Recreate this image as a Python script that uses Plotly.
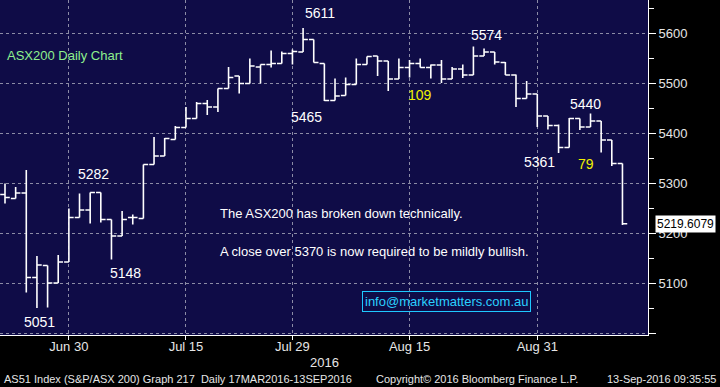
import plotly.graph_objects as go

dates = [
    "2016-06-22", "2016-06-23", "2016-06-24", "2016-06-27", "2016-06-28", "2016-06-29", "2016-06-30",
    "2016-07-01", "2016-07-04", "2016-07-05", "2016-07-06", "2016-07-07", "2016-07-08",
    "2016-07-11", "2016-07-12", "2016-07-13", "2016-07-14", "2016-07-15",
    "2016-07-18", "2016-07-19", "2016-07-20", "2016-07-21", "2016-07-22",
    "2016-07-25", "2016-07-26", "2016-07-27", "2016-07-28", "2016-07-29",
    "2016-08-01", "2016-08-02", "2016-08-03", "2016-08-04", "2016-08-05",
    "2016-08-08", "2016-08-09", "2016-08-10", "2016-08-11", "2016-08-12",
    "2016-08-15", "2016-08-16", "2016-08-17", "2016-08-18", "2016-08-19",
    "2016-08-22", "2016-08-23", "2016-08-24", "2016-08-25", "2016-08-26",
    "2016-08-29", "2016-08-30", "2016-08-31", "2016-09-01", "2016-09-02",
    "2016-09-05", "2016-09-06", "2016-09-07", "2016-09-08", "2016-09-09",
    "2016-09-12",
]
opens = [5278, 5270, 5281, 5112, 5136, 5101, 5143, 5232, 5247, 5282, 5228, 5195, 5232,
         5230, 5338, 5355, 5388, 5412, 5430, 5460, 5453, 5490, 5515, 5500, 5533, 5538, 5540, 5560,
         5563, 5588, 5540, 5466, 5476, 5498, 5538, 5555, 5545, 5509, 5532, 5540, 5532, 5537, 5509,
         5529, 5517, 5555, 5563, 5542, 5517, 5470, 5479, 5435, 5416, 5372, 5430, 5413, 5425, 5387,
         5340]
highs = [5300, 5293, 5327, 5155, 5136, 5157, 5250, 5280, 5282, 5282, 5228, 5245, 5238,
         5338, 5393, 5391, 5415, 5453, 5463, 5467, 5490, 5533, 5515, 5550, 5538, 5566, 5564, 5568,
         5611, 5588, 5540, 5510, 5512, 5550, 5554, 5555, 5545, 5550, 5547, 5550, 5538, 5547, 5533,
         5538, 5574, 5570, 5563, 5543, 5518, 5505, 5479, 5435, 5418, 5431, 5430, 5440, 5425, 5387,
         5340]
lows = [5260, 5270, 5082, 5051, 5052, 5101, 5143, 5232, 5220, 5222, 5148, 5195, 5218,
        5230, 5338, 5355, 5388, 5412, 5430, 5437, 5443, 5490, 5480, 5500, 5500, 5532, 5540, 5538,
        5563, 5542, 5465, 5466, 5476, 5498, 5538, 5515, 5485, 5509, 5512, 5532, 5510, 5501, 5509,
        5511, 5517, 5555, 5538, 5517, 5453, 5470, 5413, 5408, 5361, 5372, 5407, 5413, 5362, 5335,
        5217]
closes = [5272, 5281, 5112, 5137, 5101, 5143, 5232, 5247, 5282, 5228, 5195, 5228, 5232,
          5338, 5355, 5390, 5412, 5430, 5460, 5453, 5490, 5512, 5500, 5535, 5538, 5540, 5560, 5564,
          5588, 5542, 5466, 5475, 5498, 5538, 5554, 5545, 5509, 5532, 5540, 5532, 5537, 5509, 5529,
          5517, 5555, 5563, 5543, 5517, 5470, 5479, 5435, 5416, 5372, 5430, 5413, 5425, 5387, 5340,
          5219.6079]

tick_dates = ["2016-06-30", "2016-07-15", "2016-07-29", "2016-08-15", "2016-08-31"]
tick_labels = ["Jun 30", "Jul 15", "Jul 29", "Aug 15", "Aug 31"]
y_ticks = [5000, 5100, 5200, 5300, 5400, 5500, 5600]
y_tick_labels = ["", "5100", "5200", "5300", "5400", "5500", "5600"]

# callout labels: text, anchor date, value
callouts = [
    ("5611", "2016-08-01", 5641, 17, "white"),
    ("5574", "2016-08-23", 5597, 13, "white"),
    ("5440", "2016-09-07", 5459, -5, "white"),
    ("5361", "2016-09-02", 5343, -19, "white"),
    ("79", "2016-09-07", 5339, -5, "#f0f000"),
    ("109", "2016-08-16", 5477, 0, "#f0f000"),
    ("5465", "2016-08-01", 5433, 3, "white"),
    ("5282", "2016-07-04", 5319, 3, "white"),
    ("5148", "2016-07-07", 5121, 3, "white"),
    ("5051", "2016-06-27", 5023, 3, "white"),
]
last_price = closes[-1]

FONT = "Arial, Liberation Sans, sans-serif"
PW, PH = 648, 335

fig = go.Figure()
fig.add_trace(go.Ohlc(
    x=dates, open=opens, high=highs, low=lows, close=closes,
    increasing=dict(line=dict(color="white", width=1.6)),
    decreasing=dict(line=dict(color="white", width=1.6)),
    tickwidth=0.45, hoverinfo="skip", showlegend=False,
))

ann = []
for text, d, v, dx, col in callouts:
    ann.append(dict(x=d, y=v, xref="x", yref="y", text=text, showarrow=False, yanchor="middle",
                    xshift=dx, font=dict(family=FONT, size=14, color=col)))


def pann(x, y, text, xanchor="left", size=13, color="white", **kw):
    return dict(x=x / PW, y=1 - y / PH, xref="paper", yref="paper", xanchor=xanchor,
                yanchor="middle", text=text, showarrow=False,
                font=dict(family=FONT, size=size, color=color), **kw)


ann += [
    pann(5, 56, "ASX200 Daily Chart", color="#8ef08e"),
    pann(218, 213, "The ASX200 has broken down technically."),
    pann(218, 251, "A close over 5370 is now required to be mildly bullish."),
    pann(447, 301, "info@marketmatters.com.au", xanchor="center", color="#2ad0ff",
         bordercolor="#1ec8ff", borderwidth=1, borderpad=2),
    pann(324, 362, "2016", xanchor="center", color="#e6e6e6"),
    pann(2, 379, "AS51 Index (S&P/ASX 200) Graph 217  Daily 17MAR2016-13SEP2016", size=11, color="#e6e6e6"),
    pann(374, 379, "Copyright© 2016 Bloomberg Finance L.P.", size=11, color="#e6e6e6"),
    pann(718, 379, "13-Sep-2016 09:35:55", xanchor="right", size=11, color="#e6e6e6"),
    dict(x=1, y=last_price, xref="paper", yref="y", xanchor="left", yanchor="middle", xshift=7,
         text="5219.6079", showarrow=False, bgcolor="white", borderpad=1,
         font=dict(family=FONT, size=12, color="black")),
]

fig.update_layout(
    width=720, height=387,
    margin=dict(l=0, r=720 - PW, t=0, b=387 - PH, autoexpand=False),
    paper_bgcolor="black", plot_bgcolor="#0f0c47",
    font=dict(family=FONT, color="#e6e6e6", size=13),
    annotations=ann,
    xaxis=dict(
        type="category", range=[-0.47, 60.4], rangeslider=dict(visible=False),
        tickmode="array", tickvals=tick_dates, ticktext=tick_labels,
        showgrid=True, gridcolor="#8c8ca6", griddash="3px,3px", gridwidth=1,
        ticks="outside", ticklen=4, tickcolor="white", ticklabelstandoff=-5,
        showline=True, linecolor="white", linewidth=1,
        tickfont=dict(family=FONT, size=13, color="#e6e6e6"), zeroline=False,
    ),
    yaxis=dict(
        side="right", range=[4997, 5667], tickmode="array", tickvals=y_ticks,
        ticktext=y_tick_labels,
        showgrid=True, gridcolor="#8c8ca6", griddash="3px,3px", gridwidth=1,
        ticks="outside", ticklen=7, tickcolor="white",
        minor=dict(dtick=50, tick0=4950, ticks="outside", ticklen=5, tickcolor="white", showgrid=False),
        showline=True, linecolor="white", linewidth=1, zeroline=False,
        tickfont=dict(family=FONT, size=13, color="#e6e6e6"),
    ),
)

fig.write_html("out.html", config={"displayModeBar": False},
               post_script="document.body.style.margin='0';document.body.style.background='black';")
